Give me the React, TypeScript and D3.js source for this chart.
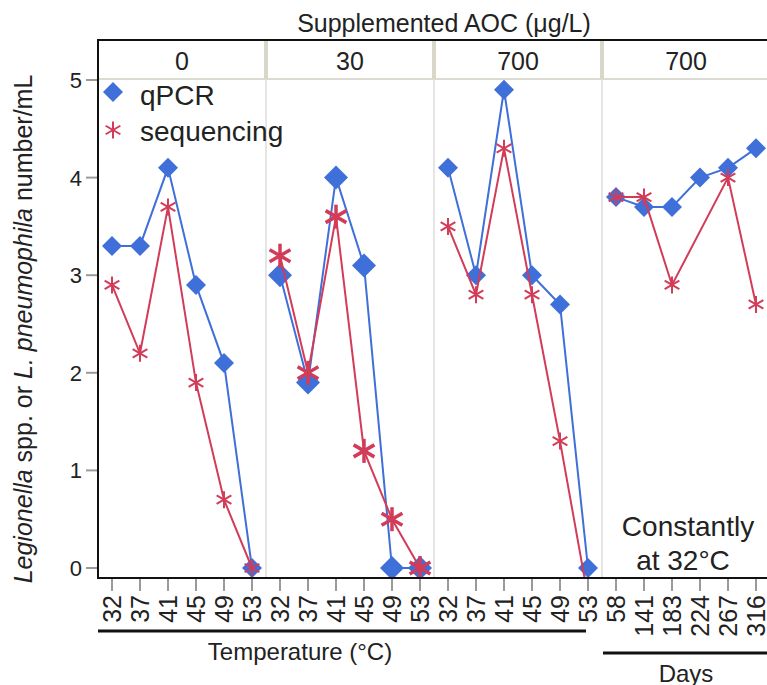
import React from "react";
import * as d3 from "d3";

const panelLabels = ["0", "30", "700", "700"];
const tempCats = ["32", "37", "41", "45", "49", "53"];
const dayCats = ["58", "141", "183", "224", "267", "316"];
const yTicks = [0, 1, 2, 3, 4, 5];

const qpcr0 = [3.3, 3.3, 4.1, 2.9, 2.1, 0];
const seq0 = [2.9, 2.2, 3.7, 1.9, 0.7, 0];
const qpcr30 = [3.0, 1.9, 4.0, 3.1, 0, 0];
const seq30 = [3.2, 2.0, 3.6, 1.2, 0.5, 0];
const qpcr700 = [4.1, 3.0, 4.9, 3.0, 2.7, 0];
const seq700 = [3.5, 2.8, 4.3, 2.8, 1.3, -0.3];
const qpcrDays = [3.8, 3.7, 3.7, 4.0, 4.1, 4.3];
const seqDays: (number | null)[] = [3.8, 3.8, 2.9, null, 4.0, 2.7];

const W = 767;
const H = 685;
const FONT = "'Liberation Sans', Arial, Helvetica, sans-serif";
const BLUE = "#3f6fd8";
const RED = "#d23c58";

const left = 98;
const top = 40;
const headerBottom = 79;
const bottom = 578;
const panelW = 168;

const y = d3.scaleLinear().domain([0, 5]).range([568, 80]);

type Panel = {
  label: string;
  cats: string[];
  qpcr: (number | null)[];
  seq: (number | null)[];
  dSize: number;
  aSize: number;
  aStroke: number;
};

const panels: Panel[] = [
  { label: panelLabels[0], cats: tempCats, qpcr: qpcr0, seq: seq0, dSize: 10, aSize: 8.5, aStroke: 2 },
  { label: panelLabels[1], cats: tempCats, qpcr: qpcr30, seq: seq30, dSize: 12, aSize: 12, aStroke: 3.5 },
  { label: panelLabels[2], cats: tempCats, qpcr: qpcr700, seq: seq700, dSize: 10, aSize: 8.5, aStroke: 2 },
  { label: panelLabels[3], cats: dayCats, qpcr: qpcrDays, seq: seqDays, dSize: 10, aSize: 8.5, aStroke: 2 },
];

function Diamond({ cx, cy, r }: { cx: number; cy: number; r: number }) {
  return <path d={`M${cx},${cy - r}L${cx + r},${cy}L${cx},${cy + r}L${cx - r},${cy}Z`} fill={BLUE} />;
}

function Asterisk({ cx, cy, r, sw }: { cx: number; cy: number; r: number; sw: number }) {
  const angles = [90, 30, 150];
  return (
    <g stroke={RED} strokeWidth={sw}>
      {angles.map((a) => {
        const rad = (a * Math.PI) / 180;
        const dx = r * Math.cos(rad);
        const dy = r * Math.sin(rad);
        return <line key={a} x1={cx - dx} y1={cy - dy} x2={cx + dx} y2={cy + dy} />;
      })}
    </g>
  );
}

export default function App() {
  return (
    <svg
      width={W}
      height={H}
      style={{ position: "absolute", left: 0, top: 0, background: "#fff" }}
      fontFamily={FONT}
    >
      <defs>
        <clipPath id="plotClip">
          <rect x={left} y={headerBottom} width={panelW * 4} height={bottom - headerBottom} />
        </clipPath>
      </defs>

      {/* top title */}
      <text x={444} y={32} textAnchor="middle" fontSize={25} fill="#222">
        Supplemented AOC (μg/L)
      </text>

      {/* header strip */}
      <line x1={left} x2={W} y1={headerBottom} y2={headerBottom} stroke="#dcdbd2" strokeWidth={2} />
      {[1, 2, 3].map((i) => (
        <g key={i}>
          <line x1={left + i * panelW} x2={left + i * panelW} y1={top} y2={headerBottom} stroke="#d8d7c8" strokeWidth={4} />
          <line x1={left + i * panelW} x2={left + i * panelW} y1={headerBottom} y2={bottom} stroke="#dcdcdc" strokeWidth={1.5} />
        </g>
      ))}
      {panels.map((p, i) => (
        <text key={i} x={left + i * panelW + panelW / 2} y={70} textAnchor="middle" fontSize={25} fill="#222">
          {p.label}
        </text>
      ))}

      {/* y axis */}
      {yTicks.map((t) => (
        <g key={t}>
          <line x1={86} x2={left} y1={y(t)} y2={y(t)} stroke="#9a9a9a" strokeWidth={2} />
          <text x={82} y={y(t) + 8} textAnchor="end" fontSize={22} fill="#222">
            {t}
          </text>
        </g>
      ))}
      <text transform={`translate(32,329) rotate(-90)`} textAnchor="middle" fontSize={25} fill="#222">
        <tspan fontStyle="italic">Legionella</tspan>
        <tspan> spp. or </tspan>
        <tspan fontStyle="italic">L. pneumophila</tspan>
        <tspan> number/mL</tspan>
      </text>

      {/* series */}
      {panels.map((p, i) => {
        const x = d3
          .scaleBand()
          .domain(p.cats)
          .range([left + i * panelW, left + (i + 1) * panelW]);
        const cx = (c: string) => (x(c) as number) + x.bandwidth() / 2;
        const qLine = d3
          .line<number | null>()
          .defined((d) => d !== null)
          .x((_, j) => cx(p.cats[j]))
          .y((d) => y(d as number));
        const seqPts = p.seq.map((v, j) => ({ v, c: p.cats[j] })).filter((d) => d.v !== null);
        const sLine = d3
          .line<{ v: number | null; c: string }>()
          .x((d) => cx(d.c))
          .y((d) => y(d.v as number));
        return (
          <g key={i}>
            {p.cats.map((c) => (
              <g key={c}>
                <line x1={cx(c)} x2={cx(c)} y1={bottom} y2={591} stroke="#9a9a9a" strokeWidth={2} />
                <text
                  transform={`translate(${cx(c) + 9},595) rotate(-90)`}
                  textAnchor="end"
                  fontSize={25}
                  fill="#222"
                >
                  {c}
                </text>
              </g>
            ))}
            <g clipPath="url(#plotClip)">
              <path d={qLine(p.qpcr) || ""} fill="none" stroke={BLUE} strokeWidth={2} />
              {p.qpcr.map((v, j) =>
                v === null ? null : <Diamond key={j} cx={cx(p.cats[j])} cy={y(v)} r={p.dSize} />
              )}
              <path d={sLine(seqPts) || ""} fill="none" stroke={RED} strokeWidth={2} />
              {seqPts.map((d) => (
                <Asterisk key={d.c} cx={cx(d.c)} cy={y(d.v as number)} r={p.aSize} sw={p.aStroke} />
              ))}
            </g>
          </g>
        );
      })}

      {/* frame */}
      <line x1={left} x2={left} y1={top - 1} y2={bottom + 1} stroke="#111" strokeWidth={2} />
      <line x1={left - 1} x2={W} y1={top} y2={top} stroke="#111" strokeWidth={2} />
      <line x1={left - 1} x2={W} y1={bottom} y2={bottom} stroke="#111" strokeWidth={2} />

      {/* legend */}
      <Diamond cx={113} cy={92} r={10} />
      <text x={140} y={105} fontSize={28} fill="#222">
        qPCR
      </text>
      <Asterisk cx={113} cy={130} r={8.5} sw={2} />
      <text x={140} y={141} fontSize={28} fill="#222">
        sequencing
      </text>

      {/* annotation */}
      <text x={688} y={536} textAnchor="middle" fontSize={28} fill="#222">
        Constantly
      </text>
      <text x={683} y={570} textAnchor="middle" fontSize={28} fill="#222">
        at 32°C
      </text>

      {/* group labels */}
      <line x1={left} x2={586} y1={631} y2={631} stroke="#111" strokeWidth={3} />
      <text x={300} y={660} textAnchor="middle" fontSize={24} fill="#222">
        Temperature (°C)
      </text>
      <line x1={603} x2={W} y1={653} y2={653} stroke="#111" strokeWidth={3} />
      <text x={686} y={682} textAnchor="middle" fontSize={24} fill="#222">
        Days
      </text>
    </svg>
  );
}
